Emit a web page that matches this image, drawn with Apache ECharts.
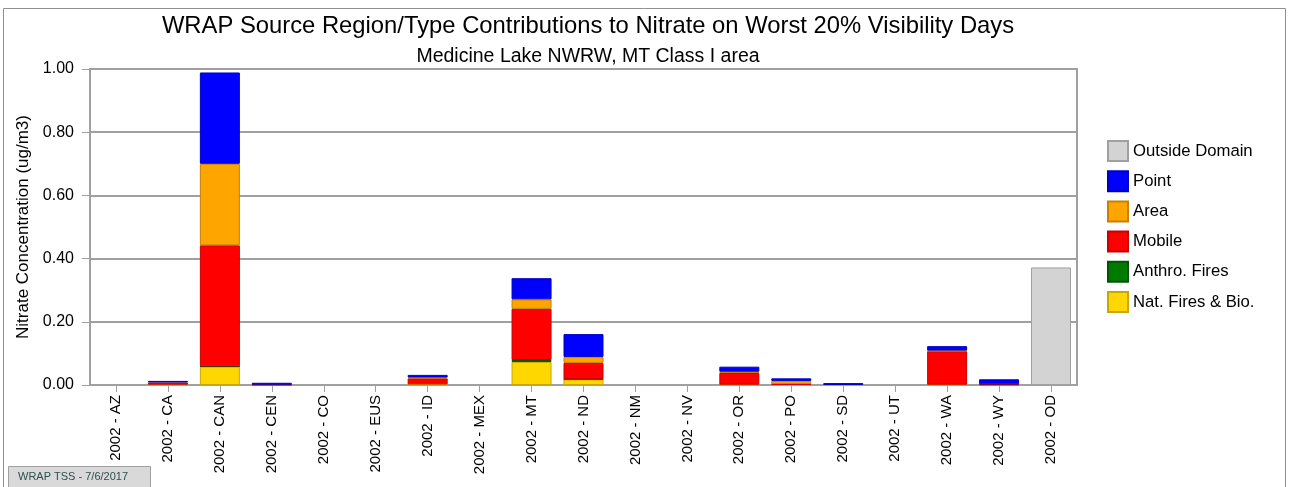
<!DOCTYPE html>
<html>
<head>
<meta charset="utf-8">
<script src="https://cdn.jsdelivr.net/npm/echarts@6/dist/echarts.min.js"></script>
<style>html,body{margin:0;padding:0;background:#fff;}#c{width:1289px;height:487px;}</style>
</head>
<body>
<div id="c"></div>
<script>
const categories = ['2002 - AZ','2002 - CA','2002 - CAN','2002 - CEN','2002 - CO','2002 - EUS','2002 - ID','2002 - MEX','2002 - MT','2002 - ND','2002 - NM','2002 - NV','2002 - OR','2002 - PO','2002 - SD','2002 - UT','2002 - WA','2002 - WY','2002 - OD'];
const natFires    = [0,0.001,0.058,0,0,0,0.002,0,0.073,0.018,0,0,0.001,0.001,0,0,0.001,0,0];
const anthroFires = [0,0,0.001,0,0,0,0,0,0.006,0.001,0,0,0,0,0,0,0,0,0];
const mobile      = [0,0.007,0.383,0.001,0,0,0.019,0,0.162,0.051,0,0,0.037,0.002,0,0,0.106,0.002,0];
const area        = [0,0,0.258,0,0,0,0.003,0,0.030,0.019,0,0,0.004,0.010,0,0,0.002,0,0];
const point       = [0,0.005,0.289,0.006,0,0,0.008,0,0.067,0.072,0,0,0.016,0.008,0.006,0,0.014,0.016,0];
const outside     = [0,0,0,0,0,0,0,0,0,0,0,0,0,0,0,0,0,0,0.372];
const yTicks = [0, 0.2, 0.4, 0.6, 0.8, 1.0];

const FONT = 'Liberation Sans, Arial, sans-serif';
function mk(name, data, color, border) {
  return {
    name, type: 'bar', stack: 'total', barWidth: 40,
    data: data.map(v => v === 0 ? '-' : v),
    itemStyle: { color: color, borderColor: border, borderWidth: 1 },
    emphasis: { disabled: true }
  };
}
const chart = echarts.init(document.getElementById('c'), null, { renderer: 'canvas' });
chart.setOption({
  animation: false,
  backgroundColor: '#ffffff',
  title: [
    { text: 'WRAP Source Region/Type Contributions to Nitrate on Worst 20% Visibility Days', left: 583, top: 9, textAlign: 'center',
      textStyle: { fontFamily: FONT, fontSize: 23.8, fontWeight: 'normal', color: '#000' } },
    { text: 'Medicine Lake NWRW, MT Class I area', left: 583, top: 42, textAlign: 'center',
      textStyle: { fontFamily: FONT, fontSize: 19.5, fontWeight: 'normal', color: '#000' } }
  ],
  legend: {
    orient: 'vertical', left: 1102, top: 135, itemWidth: 20, itemHeight: 20, itemGap: 8.2, icon: 'rect',
    data: ['Outside Domain','Point','Area','Mobile','Anthro. Fires','Nat. Fires & Bio.'],
    textStyle: { fontFamily: FONT, fontSize: 16.7, color: '#000' },
    selectedMode: false
  },
  grid: { left: 90, right: 212, top: 69, bottom: 102, show: true, borderColor: '#a0a0a0', borderWidth: 2, backgroundColor: '#fff' },
  xAxis: {
    type: 'category', data: categories,
    axisLine: { lineStyle: { color: '#a0a0a0', width: 2 } },
    axisTick: { show: true, length: 7, alignWithLabel: true, lineStyle: { color: '#a0a0a0' } },
    axisLabel: { rotate: 90, interval: 0, margin: 10, fontFamily: FONT, fontSize: 15, color: '#000' }
  },
  yAxis: {
    type: 'value', min: yTicks[0], max: yTicks[yTicks.length - 1], interval: 0.2,
    name: 'Nitrate Concentration (ug/m3)', nameLocation: 'middle', nameGap: 57,
    nameTextStyle: { fontFamily: FONT, fontSize: 17, color: '#000' },
    axisLine: { show: true, lineStyle: { color: '#a0a0a0', width: 2 } },
    axisTick: { show: true, length: 8, lineStyle: { color: '#a0a0a0' } },
    axisLabel: { margin: 16, fontFamily: FONT, fontSize: 16, color: '#000', formatter: v => v.toFixed(2) },
    splitLine: { show: true, lineStyle: { color: '#a0a0a0', width: 2 } }
  },
  series: [
    mk('Nat. Fires & Bio.', natFires, '#FFD700', '#C8A800'),
    mk('Anthro. Fires', anthroFires, '#007A00', '#005500'),
    mk('Mobile', mobile, '#FF0000', '#C80000'),
    mk('Area', area, '#FFA500', '#C88000'),
    mk('Point', point, '#0000FF', '#0000C0'),
    mk('Outside Domain', outside, '#D3D3D3', '#A0A0A0')
  ],
  graphic: [
    { type: 'rect', shape: { x: 3.5, y: 8.5, width: 1282, height: 490 }, style: { fill: 'none', stroke: '#909090', lineWidth: 1 }, silent: true },
    { type: 'rect', shape: { x: 8.5, y: 466.5, width: 142, height: 22 }, style: { fill: '#d9d9d9', stroke: '#a0a0a0', lineWidth: 1 }, silent: true },
    { type: 'text', left: 18, top: 471, style: { text: 'WRAP TSS - 7/6/2017', fontFamily: FONT, fontSize: 11, fill: '#2f4f4f' }, silent: true }
  ]
});
</script>
</body>
</html>
